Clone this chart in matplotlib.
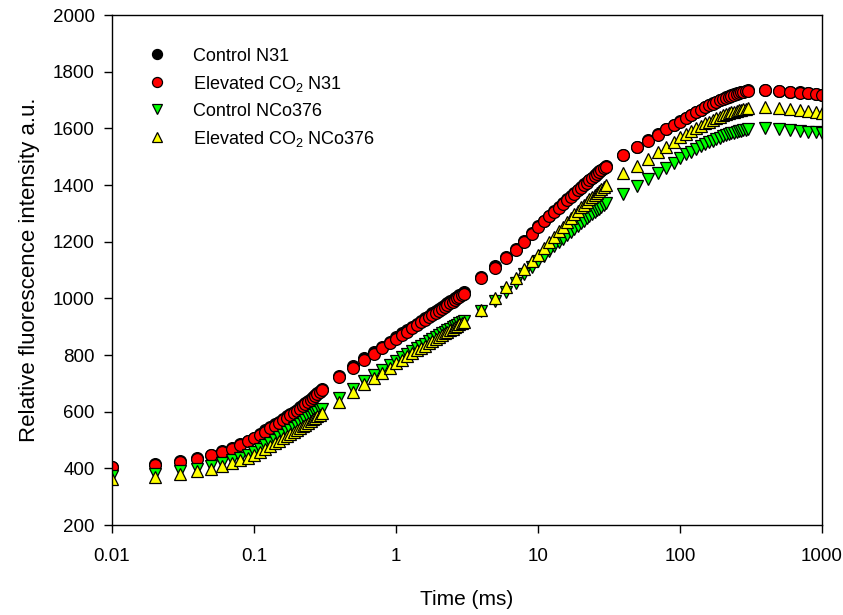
import numpy as np
import matplotlib
matplotlib.use('Agg')
import matplotlib.pyplot as plt

plt.rcParams['font.family'] = ['Liberation Sans', 'DejaVu Sans']
plt.rcParams['mathtext.fontset'] = 'custom'
plt.rcParams['mathtext.rm'] = 'Liberation Sans'
plt.rcParams['mathtext.it'] = 'Liberation Sans:italic'

# sampling times (ms)
time_ms = [
    0.01, 0.02, 0.03, 0.04, 0.05, 0.06, 0.07, 0.08, 0.09, 0.10,
    0.11, 0.12, 0.13, 0.14, 0.15, 0.16, 0.17, 0.18, 0.19, 0.20,
    0.21, 0.22, 0.23, 0.24, 0.25, 0.26, 0.27, 0.28, 0.29, 0.30,
    0.4, 0.5, 0.6, 0.7, 0.8, 0.9, 1.0, 1.1, 1.2, 1.3, 1.4, 1.5, 1.6, 1.7,
    1.8, 1.9, 2.0, 2.1, 2.2, 2.3, 2.4, 2.5, 2.6, 2.7, 2.8, 2.9, 3.0,
    4, 5, 6, 7, 8, 9, 10, 11, 12, 13, 14, 15, 16, 17,
    18, 19, 20, 21, 22, 23, 24, 25, 26, 27, 28, 29, 30,
    40, 50, 60, 70, 80, 90, 100, 110, 120, 130, 140, 150, 160, 170,
    180, 190, 200, 210, 220, 230, 240, 250, 260, 270, 280, 290, 300,
    400, 500, 600, 700, 800, 900, 1000,
]

control_n31 = [
    406, 414, 425, 436, 448, 460, 472, 485, 497, 508,
    522, 534, 545, 555, 565, 574, 583, 591, 599, 607,
    615, 623, 631, 638, 645, 652, 659, 666, 673, 680,
    727, 761, 789, 811, 830, 847, 862, 876, 888, 900, 911, 921, 930, 939,
    947, 955, 962, 969, 976, 982, 989, 994, 1000, 1006, 1011, 1016, 1021,
    1077, 1114, 1145, 1175, 1203, 1231, 1256, 1274, 1291, 1307, 1322, 1336, 1349, 1361,
    1372, 1383, 1393, 1402, 1410, 1418, 1426, 1434, 1441, 1448, 1454, 1461, 1467,
    1506, 1535, 1558, 1579, 1597, 1612, 1625, 1636, 1647, 1657, 1666, 1675, 1682, 1688,
    1694, 1700, 1705, 1709, 1713, 1716, 1720, 1723, 1725, 1728, 1730, 1732, 1734,
    1736, 1733, 1730, 1727, 1725, 1722, 1719,
]

elevated_n31 = [
    404, 412, 423, 434, 446, 458, 470, 483, 495, 506,
    518, 530, 541, 551, 561, 570, 579, 587, 595, 603,
    611, 619, 627, 634, 641, 648, 655, 662, 669, 676,
    721, 755, 783, 805, 824, 841, 856, 870, 882, 894, 905, 915, 924, 933,
    941, 949, 956, 963, 970, 976, 983, 988, 994, 1000, 1005, 1010, 1015,
    1071, 1108, 1142, 1172, 1200, 1228, 1253, 1272, 1289, 1305, 1320, 1334, 1347, 1359,
    1370, 1381, 1391, 1400, 1408, 1416, 1424, 1432, 1439, 1446, 1452, 1459, 1465,
    1505, 1534, 1557, 1578, 1596, 1611, 1624, 1635, 1646, 1656, 1665, 1674, 1681, 1687,
    1693, 1699, 1704, 1708, 1712, 1715, 1719, 1722, 1724, 1727, 1729, 1731, 1733,
    1735, 1732, 1729, 1726, 1724, 1721, 1718,
]

control_nco376 = [
    372, 380, 389, 399, 408, 418, 428, 438, 448, 458,
    469, 481, 491, 500, 510, 519, 527, 535, 542, 548,
    556, 563, 569, 576, 582, 588, 594, 600, 605, 610,
    650, 681, 707, 728, 746, 763, 779, 792, 803, 814, 823, 832, 840, 848,
    855, 862, 869, 876, 881, 887, 892, 898, 903, 907, 912, 916, 921,
    957, 990, 1022, 1055, 1085, 1110, 1133, 1151, 1168, 1183, 1198, 1211, 1223, 1235,
    1246, 1256, 1266, 1274, 1282, 1290, 1297, 1304, 1311, 1317, 1324, 1330, 1335,
    1370, 1398, 1421, 1442, 1461, 1478, 1496, 1508, 1518, 1528, 1537, 1545, 1551, 1557,
    1562, 1567, 1572, 1576, 1579, 1582, 1585, 1588, 1590, 1592, 1594, 1595, 1597,
    1602, 1598, 1594, 1592, 1588, 1587, 1585,
]

elevated_nco376 = [
    362, 370, 379, 389, 398, 408, 418, 428, 438, 447,
    458, 469, 479, 488, 497, 506, 514, 521, 528, 534,
    541, 548, 554, 561, 567, 573, 578, 584, 589, 594,
    635, 668, 696, 719, 738, 755, 771, 784, 795, 806, 816, 825, 833, 841,
    849, 856, 863, 870, 876, 882, 887, 893, 898, 903, 908, 912, 917,
    960, 1002, 1040, 1073, 1103, 1130, 1154, 1177, 1198, 1218, 1236, 1253, 1268, 1283,
    1297, 1310, 1322, 1331, 1340, 1349, 1357, 1365, 1372, 1379, 1386, 1393, 1400,
    1441, 1468, 1491, 1515, 1535, 1553, 1569, 1581, 1591, 1601, 1610, 1618, 1624, 1630,
    1636, 1641, 1646, 1649, 1653, 1656, 1659, 1662, 1664, 1666, 1668, 1670, 1671,
    1674, 1671, 1667, 1665, 1661, 1658, 1655,
]

series = [
    ('Control N31', control_n31, 'o', 'black'),
    ('Elevated CO$_2$ N31', elevated_n31, 'o', '#ff0000'),
    ('Control NCo376', control_nco376, 'v', '#00ff00'),
    ('Elevated CO$_2$ NCo376', elevated_nco376, '^', '#ffff00'),
]

fig = plt.figure(figsize=(8.43, 6.15), dpi=100)
ax = fig.add_axes([112 / 843, 1 - 525 / 615, 710 / 843, 510 / 615])

t = np.array(time_ms)
for label, vals, marker, color in series:
    ax.plot(t, vals, linestyle='none', marker=marker, markersize=8.5,
            markerfacecolor=color, markeredgecolor='black',
            markeredgewidth=0.9, label=label)

ax.set_xscale('log')
ax.set_xlim(0.01, 1000)
ax.set_ylim(200, 2000)
ax.set_xticks([0.01, 0.1, 1, 10, 100, 1000])
ax.set_xticklabels(['0.01', '0.1', '1', '10', '100', '1000'])
ax.xaxis.set_minor_locator(matplotlib.ticker.NullLocator())
ax.set_yticks(np.arange(200, 2001, 200))

ax.tick_params(axis='both', which='major', direction='out', length=5.5,
               width=1, labelsize=13.5, top=False, right=False)
ax.tick_params(axis='x', pad=11)
ax.tick_params(axis='y', pad=7)
for sp in ax.spines.values():
    sp.set_linewidth(1)

ax.set_xlabel('Time (ms)', fontsize=15, labelpad=18)
ax.set_ylabel('Relative fluorescence intensity a.u.', fontsize=16, labelpad=9)

ax.legend(loc='upper left', bbox_to_anchor=(0.0385, 0.936), frameon=False,
          fontsize=13, borderpad=0, borderaxespad=0, handlelength=2.0,
          handletextpad=0.96, labelspacing=0.5, markerscale=0.85)

fig.savefig('out.png', dpi=100, facecolor='white')
plt.close(fig)
